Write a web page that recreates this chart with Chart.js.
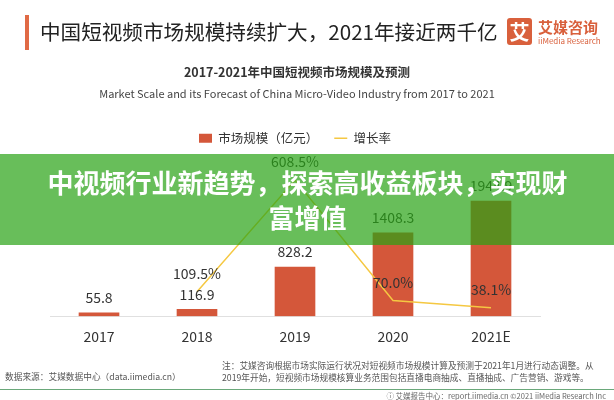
<!DOCTYPE html>
<html>
<head>
<meta charset="utf-8">
<script src="https://cdn.jsdelivr.net/npm/chart.js@4.4.0/dist/chart.umd.min.js"></script>
<style>
    html, body { margin: 0; padding: 0; background: #fff; }
    body {
        width: 614px; height: 400px; position: relative; overflow: hidden;
        font-family: "Noto Sans CJK SC", "Noto Sans", sans-serif; color: #333;
    }
    #chart { position: absolute; left: 0; top: 0; }
    .abs { position: absolute; white-space: nowrap; }
    #accent { left: 25px; top: 15px; width: 4px; height: 35px; background: #e06a45; }
    #title { left: 40px; top: 18px; font-size: 20.6px; line-height: 26px; color: #222; }
    #logo-box {
        left: 507px; top: 18px; width: 25px; height: 27px; border-radius: 3px;
        background: #d9603c; color: #fff; font-size: 20px; font-weight: bold;
        line-height: 27px; text-align: center;
    }
    #logo-cn { left: 538px; top: 18px; font-size: 15px; line-height: 18px; font-weight: bold; color: #d9603c; }
    #logo-en { left: 538px; top: 36px; font-size: 8px; line-height: 9px; color: #d9603c; }
    #sub-cn { left: 0; width: 594px; top: 64px; text-align: center; font-size: 12.5px; line-height: 16px; font-weight: bold; color: #333; }
    #sub-en { left: 0; width: 594px; top: 86px; text-align: center; font-size: 11px; line-height: 14px; color: #444; }
    #banner {
        position: absolute; left: 0; top: 154px; width: 614px; height: 91px;
        background: rgba(40, 162, 20, 0.7);
    }
    #banner-text {
        position: absolute; left: 42px; top: 10px; width: 531px;
        font-size: 26px; line-height: 35px; font-weight: bold; color: #fff; text-align: center;
    }
    #source { left: 5px; top: 371px; font-size: 8.7px; line-height: 12px; color: #555; }
    #note { left: 222px; top: 360px; font-size: 8.7px; line-height: 12px; color: #555; }
    #rule { position: absolute; left: 0; top: 389px; width: 614px; height: 1px; background: #6aa87a; }
    #credit { right: 8px; top: 391px; font-size: 7.5px; line-height: 10px; color: #666; }
</style>
</head>
<body>
<canvas id="chart" width="614" height="400"></canvas>

<div class="abs" id="accent"></div>
<div class="abs" id="title">中国短视频市场规模持续扩大，2021年接近两千亿</div>
<div class="abs" id="logo-box">艾</div>
<div class="abs" id="logo-cn">艾媒咨询</div>
<div class="abs" id="logo-en">iiMedia Research</div>
<div class="abs" id="sub-cn">2017-2021年中国短视频市场规模及预测</div>
<div class="abs" id="sub-en">Market Scale and its Forecast of China Micro-Video Industry from 2017 to 2021</div>

<div id="banner"><div id="banner-text">中视频行业新趋势，探索高收益板块，实现财富增值</div></div>

<div class="abs" id="source">数据来源：艾媒数据中心（data.iimedia.cn）</div>
<div class="abs" id="note">注：艾媒咨询根据市场实际运行状况对短视频市场规模计算及预测于2021年1月进行动态调整。从<br>2019年开始，短视频市场规模核算业务范围包括直播电商抽成、直播抽成、广告营销、游戏等。</div>
<div id="rule"></div>
<div class="abs" id="credit">ⓘ 艾媒报告中心：report.iimedia.cn ©2021 iiMedia Research Inc</div>

<script>
// chart data
const years = ['2017', '2018', '2019', '2020', '2021E'];
const marketSize = [55.8, 116.9, 828.2, 1408.3, 1944.9];   // 亿元
const growthRate = [null, 109.5, 608.5, 70.0, 38.1];       // %
const seriesNames = ['市场规模（亿元）', '增长率'];

const FONT = '"Noto Sans CJK SC", "Noto Sans", sans-serif';
const BAR_COLOR = '#d4573a';
const LINE_COLOR = '#f5c842';

// draws value labels over bars and growth points
const valueLabels = {
    id: 'valueLabels',
    afterDatasetsDraw(chart) {
        const ctx = chart.ctx;
        ctx.save();
        ctx.font = '14px ' + FONT;
        ctx.fillStyle = '#333';
        ctx.textAlign = 'center';
        ctx.textBaseline = 'middle';
        chart.getDatasetMeta(0).data.forEach((el, i) => {
            ctx.fillText(marketSize[i].toFixed(1), el.x, el.y - 15);
        });
        chart.getDatasetMeta(1).data.forEach((el, i) => {
            if (growthRate[i] == null) return;
            ctx.fillText(growthRate[i].toFixed(1) + '%', el.x, el.y - 18);
        });
        ctx.restore();
    }
};

const ctx = document.getElementById('chart').getContext('2d');
new Chart(ctx, {
    type: 'bar',
    data: {
        labels: years,
        datasets: [
            {
                type: 'bar',
                label: seriesNames[0],
                data: marketSize,
                backgroundColor: BAR_COLOR,
                barThickness: 40,
                pointStyle: 'rect',
                yAxisID: 'y',
                order: 1
            },
            {
                type: 'line',
                label: seriesNames[1],
                data: growthRate,
                borderColor: LINE_COLOR,
                backgroundColor: LINE_COLOR,
                borderWidth: 1.5,
                pointRadius: 0,
                pointStyle: 'line',
                tension: 0,
                yAxisID: 'y2',
                order: 0
            }
        ]
    },
    options: {
        responsive: false,
        animation: false,
        layout: { padding: { top: 116, left: 50, right: 74, bottom: 43 } },
        plugins: {
            legend: {
                position: 'top',
                labels: {
                    usePointStyle: true,
                    pointStyleWidth: 13,
                    boxHeight: 9,
                    padding: 16,
                    color: '#333',
                    font: { size: 12.5, family: FONT },
                    sort: (a, b) => a.datasetIndex - b.datasetIndex
                }
            },
            tooltip: { enabled: false }
        },
        scales: {
            x: {
                grid: { display: false, drawTicks: false },
                border: { display: true, color: '#e0e0e0' },
                ticks: { color: '#333', padding: 12, font: { size: 14, family: FONT } }
            },
            y: { display: false, min: 0, max: 2729 },
            y2: { display: false, min: 0, max: 723 }
        }
    },
    plugins: [valueLabels]
});
</script>
</body>
</html>
